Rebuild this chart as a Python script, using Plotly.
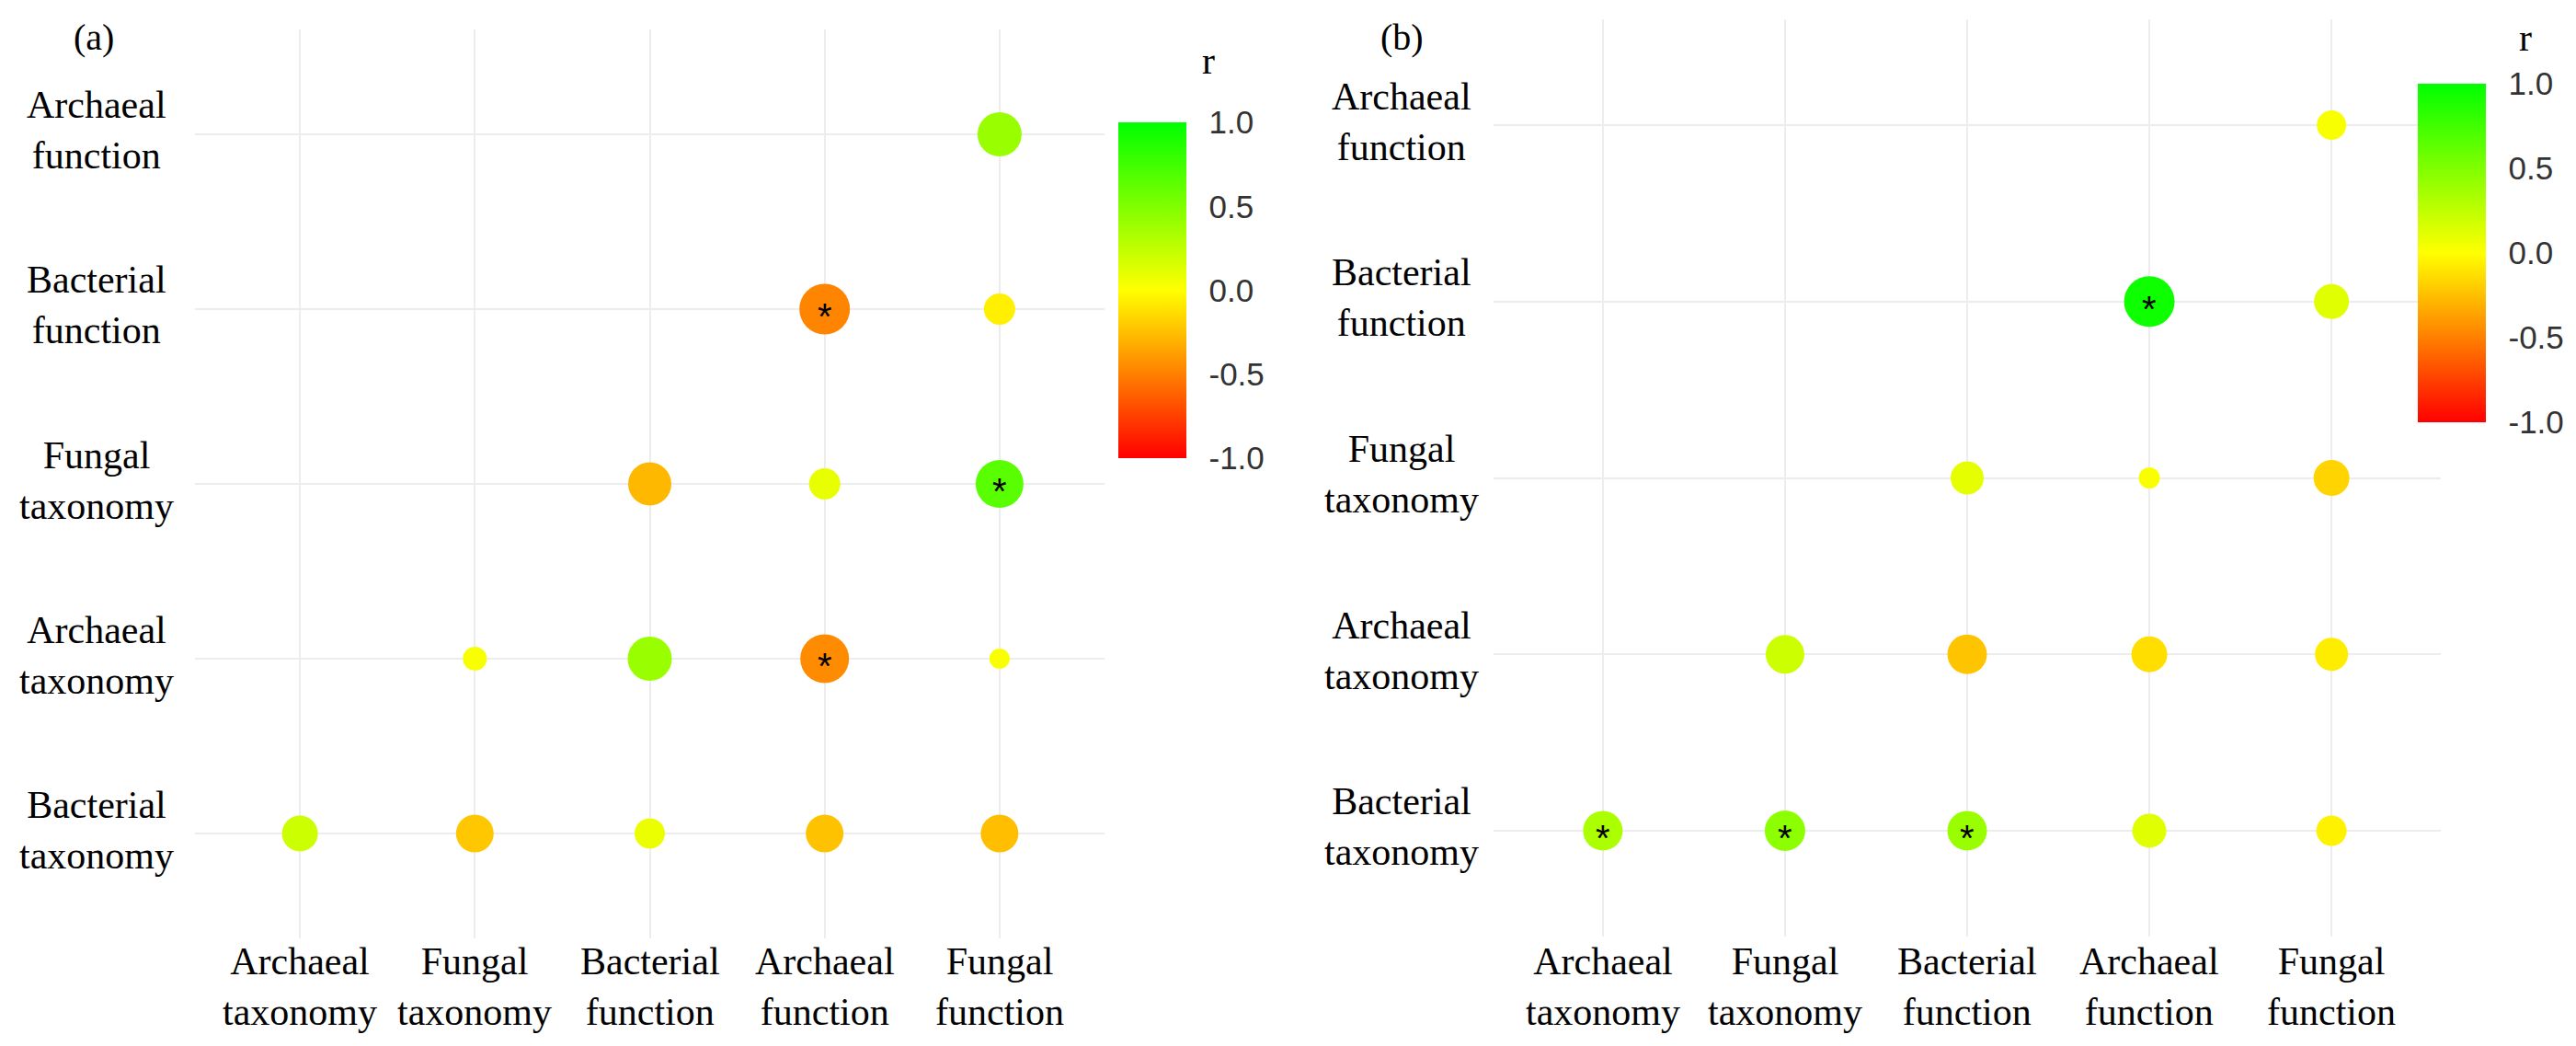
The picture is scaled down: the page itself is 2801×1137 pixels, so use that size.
import plotly.graph_objects as go

W, H = 2801, 1137

# ---------------- data ----------------
x_cats = ["Archaeal taxonomy", "Fungal taxonomy", "Bacterial function",
          "Archaeal function", "Fungal function"]
y_cats = ["Bacterial taxonomy", "Archaeal taxonomy", "Fungal taxonomy",
          "Bacterial function", "Archaeal function"]
x_labels = ["Archaeal<br>taxonomy", "Fungal<br>taxonomy", "Bacterial<br>function",
            "Archaeal<br>function", "Fungal<br>function"]
y_labels = ["Bacterial<br>taxonomy", "Archaeal<br>taxonomy", "Fungal<br>taxonomy",
            "Bacterial<br>function", "Archaeal<br>function"]

# panel (a)
a_row = ["Archaeal function", "Bacterial function", "Bacterial function",
         "Fungal taxonomy", "Fungal taxonomy", "Fungal taxonomy",
         "Archaeal taxonomy", "Archaeal taxonomy", "Archaeal taxonomy", "Archaeal taxonomy",
         "Bacterial taxonomy", "Bacterial taxonomy", "Bacterial taxonomy",
         "Bacterial taxonomy", "Bacterial taxonomy"]
a_col = ["Fungal function", "Archaeal function", "Fungal function",
         "Bacterial function", "Archaeal function", "Fungal function",
         "Fungal taxonomy", "Bacterial function", "Archaeal function", "Fungal function",
         "Archaeal taxonomy", "Fungal taxonomy", "Bacterial function",
         "Archaeal function", "Fungal function"]
a_r = [0.40, -0.48, -0.06,
       -0.28, 0.09, 0.65,
       0.03, 0.40, -0.45, 0.02,
       0.20, -0.22, 0.08, -0.24, -0.25]
a_mag = [4.8, 5.5, 3.4,
         4.7, 3.4, 5.2,
         2.6, 4.8, 5.3, 2.2,
         3.9, 4.1, 3.3, 4.1, 4.1]
a_sig = [False, True, False,
         False, False, True,
         False, False, True, False,
         False, False, False, False, False]

# panel (b)
b_row = ["Archaeal function", "Bacterial function", "Bacterial function",
         "Fungal taxonomy", "Fungal taxonomy", "Fungal taxonomy",
         "Archaeal taxonomy", "Archaeal taxonomy", "Archaeal taxonomy", "Archaeal taxonomy",
         "Bacterial taxonomy", "Bacterial taxonomy", "Bacterial taxonomy",
         "Bacterial taxonomy", "Bacterial taxonomy"]
b_col = ["Fungal function", "Archaeal function", "Fungal function",
         "Bacterial function", "Archaeal function", "Fungal function",
         "Fungal taxonomy", "Bacterial function", "Archaeal function", "Fungal function",
         "Archaeal taxonomy", "Fungal taxonomy", "Bacterial function",
         "Archaeal function", "Fungal function"]
b_r = [0.03, 0.95, 0.12,
       0.10, 0.02, -0.17,
       0.20, -0.23, -0.13, -0.07,
       0.33, 0.45, 0.40, 0.12, -0.05]
b_mag = [3.2, 5.5, 3.8,
         3.6, 2.3, 3.9,
         4.2, 4.3, 3.9, 3.6,
         4.3, 4.4, 4.3, 3.7, 3.3]
b_sig = [False, True, False,
         False, False, False,
         False, False, False, False,
         True, True, True, False, False]

cbar_ticks = [-1.0, -0.5, 0.0, 0.5, 1.0]

# ---------------- styling ----------------
SIZE_SCALE = 10
SERIF = "Liberation Serif"
SANS = "Liberation Sans"
GRID = "#EDEDED"
colorscale = [[0.0, "#FF0000"], [0.5, "#FFFF00"], [1.0, "#00FF00"]]

fig = go.Figure()

fig.add_trace(go.Scatter(
    x=a_col, y=a_row, mode="markers", xaxis="x", yaxis="y",
    marker=dict(size=[m * SIZE_SCALE for m in a_mag], color=a_r,
                coloraxis="coloraxis", line=dict(width=0), opacity=1),
    showlegend=False, hoverinfo="skip"))
fig.add_trace(go.Scatter(
    x=b_col, y=b_row, mode="markers", xaxis="x2", yaxis="y2",
    marker=dict(size=[m * SIZE_SCALE for m in b_mag], color=b_r,
                coloraxis="coloraxis2", line=dict(width=0), opacity=1),
    showlegend=False, hoverinfo="skip"))

annotations = []
star_font = dict(family=SANS, size=40, color="black")
for xr, yr, rows, cols, sigs in [("x", "y", a_row, a_col, a_sig),
                                 ("x2", "y2", b_row, b_col, b_sig)]:
    for rr, cc, s in zip(rows, cols, sigs):
        if s:
            annotations.append(dict(x=cc, y=rr, xref=xr, yref=yr, text="*",
                                    showarrow=False, font=star_font,
                                    xanchor="center", yanchor="middle", yshift=-8))

label_font = dict(family=SERIF, size=42, color="black")
for xr, yr, xpos in [("x", "y", 97 / W), ("x2", "y2", 1516 / W)]:
    for cat, lab in zip(y_cats, y_labels):
        annotations.append(dict(x=xpos, y=cat, xref="paper", yref=yr, text=lab,
                                showarrow=False, font=label_font, align="center",
                                xanchor="center", yanchor="middle", yshift=4))
    for cat, lab in zip(x_cats, x_labels):
        annotations.append(dict(x=cat, y=1 - 1064 / H, xref=xr, yref="paper", text=lab,
                                showarrow=False, font=label_font, align="center",
                                xanchor="center", yanchor="middle"))

annotations += [
    dict(x=94 / W, y=1 - 33 / H, xref="paper", yref="paper", text="(a)", showarrow=False,
         font=dict(family=SERIF, size=40, color="black"), xanchor="center", yanchor="middle"),
    dict(x=1516 / W, y=1 - 33 / H, xref="paper", yref="paper", text="(b)", showarrow=False,
         font=dict(family=SERIF, size=40, color="black"), xanchor="center", yanchor="middle"),
    dict(x=1306 / W, y=1 - 58 / H, xref="paper", yref="paper", text="r", showarrow=False,
         font=dict(family=SERIF, size=42, color="black"), xanchor="center", yanchor="middle"),
    dict(x=2738 / W, y=1 - 33 / H, xref="paper", yref="paper", text="r", showarrow=False,
         font=dict(family=SERIF, size=42, color="black"), xanchor="center", yanchor="middle"),
]


def axis(domain, cats):
    return dict(domain=domain, type="category", categoryorder="array", categoryarray=cats,
                range=[-0.6, 4.6], showgrid=True, gridcolor=GRID, gridwidth=2,
                zeroline=False, showline=False, showticklabels=False, ticks="",
                fixedrange=True)


def cbar(x_left, top, bottom):
    return dict(x=x_left / W, xanchor="left", y=1 - (top + bottom) / 2 / H, yanchor="middle",
                len=(bottom - top) / H, lenmode="fraction", thickness=74, thicknessmode="pixels",
                outlinewidth=0, xpad=0, ypad=0, tickvals=cbar_ticks,
                ticktext=[f"{v:.1f}" for v in cbar_ticks], ticks="outside", ticklen=18,
                tickwidth=1, tickcolor="white",
                tickfont=dict(family=SANS, size=35, color="#333333"), title=dict(text=""))


fig.update_layout(
    width=W, height=H, margin=dict(l=0, r=0, t=0, b=0),
    paper_bgcolor="white", plot_bgcolor="white",
    xaxis=axis([204 / W, 1193 / W], x_cats),
    yaxis=axis([1 - 1012 / H, 1 - 24 / H], y_cats),
    xaxis2=axis([1616 / W, 2646 / W], x_cats),
    yaxis2=axis([1 - 1010 / H, 1 - 13 / H], y_cats),
    coloraxis=dict(colorscale=colorscale, cmin=-1, cmax=1, colorbar=cbar(1208, 125, 490)),
    coloraxis2=dict(colorscale=colorscale, cmin=-1, cmax=1, colorbar=cbar(2621, 83, 451)),
    annotations=annotations,
)

fig.write_html("out.html")
